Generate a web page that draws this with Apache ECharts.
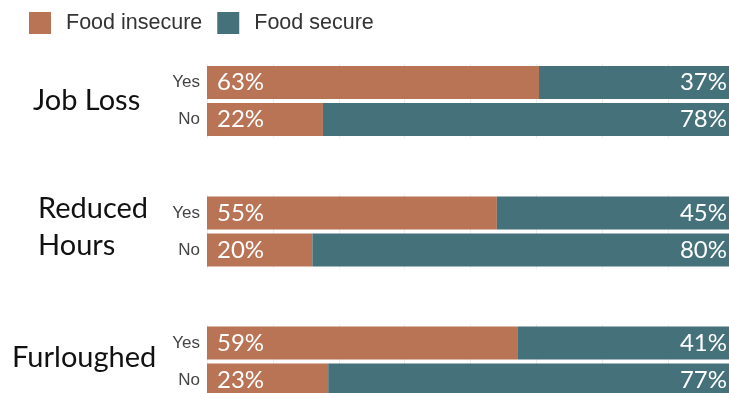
<!DOCTYPE html>
<html><head><meta charset="utf-8">
<script src="https://cdn.jsdelivr.net/npm/echarts@6/dist/echarts.min.js"></script>
<style>html,body{margin:0;padding:0;background:#fff}#c{width:729px;height:393px}</style>
</head><body><div id="c"></div>
<script>
const groups = ['Job Loss', 'Reduced\nHours', 'Furloughed'];
const answers = ['Yes', 'No'];
const insecure = [[63, 22], [55, 20], [59, 23]];
const secure = [[37, 78], [45, 80], [41, 77]];
const seriesNames = ['Food insecure', 'Food secure'];
const colors = ['#B97355', '#45717B'];

const gridTops = [64, 194.5, 324.5];
const labelFont = 'Lato, "Open Sans", sans-serif';

const grid = [], xAxis = [], yAxis = [], series = [], graphic = [];
groups.forEach((g, i) => {
  grid.push({left: 207, width: 527, top: gridTops[i], height: 74, outerBoundsMode: 'none', containLabel: false});
  xAxis.push({type: 'value', gridIndex: i, min: 0, max: 100, interval: 12.5,
    axisLabel: {show: false}, axisLine: {show: false}, axisTick: {show: false},
    splitLine: {show: true, lineStyle: {color: '#ececec', width: 1}}});
  yAxis.push({type: 'category', gridIndex: i, data: answers, inverse: true,
    axisLine: {show: false}, axisTick: {show: false},
    axisLabel: {color: '#444', fontSize: 17, fontFamily: 'Liberation Sans, Arial, sans-serif', margin: 7}});
  series.push({name: seriesNames[0], type: 'bar', stack: 's' + i, xAxisIndex: i, yAxisIndex: i,
    data: insecure[i], barWidth: 33, itemStyle: {color: colors[0]},
    label: {show: true, position: 'insideLeft', distance: 10, color: '#fff', fontSize: 24,
      fontFamily: labelFont, formatter: p => p.value + '%'}});
  series.push({name: seriesNames[1], type: 'bar', stack: 's' + i, xAxisIndex: i, yAxisIndex: i,
    data: secure[i], barWidth: 33, itemStyle: {color: colors[1]},
    label: {show: true, position: 'insideRight', distance: 7, color: '#fff', fontSize: 24,
      fontFamily: labelFont, formatter: p => p.value + '%'}});
});

const groupLabelPos = [[33, 101], [38, 227], [12, 358]];
groups.forEach((g, i) => {
  graphic.push({type: 'text', x: groupLabelPos[i][0], y: groupLabelPos[i][1],
    style: {text: g, fill: '#111', font: '29px ' + labelFont, lineHeight: 37,
      verticalAlign: 'middle', textAlign: 'left'}});
});

const chart = echarts.init(document.getElementById('c'));
chart.setOption({
  animation: false,
  legend: {left: 29, top: 12, padding: 0, itemWidth: 22, itemHeight: 22, itemGap: 15, icon: 'rect',
    data: seriesNames,
    textStyle: {fontSize: 21.5, color: '#333', fontFamily: 'Liberation Sans, Arial, sans-serif', padding: [3, 0, 0, 10]}},
  grid, xAxis, yAxis, series, graphic
});
</script></body></html>
